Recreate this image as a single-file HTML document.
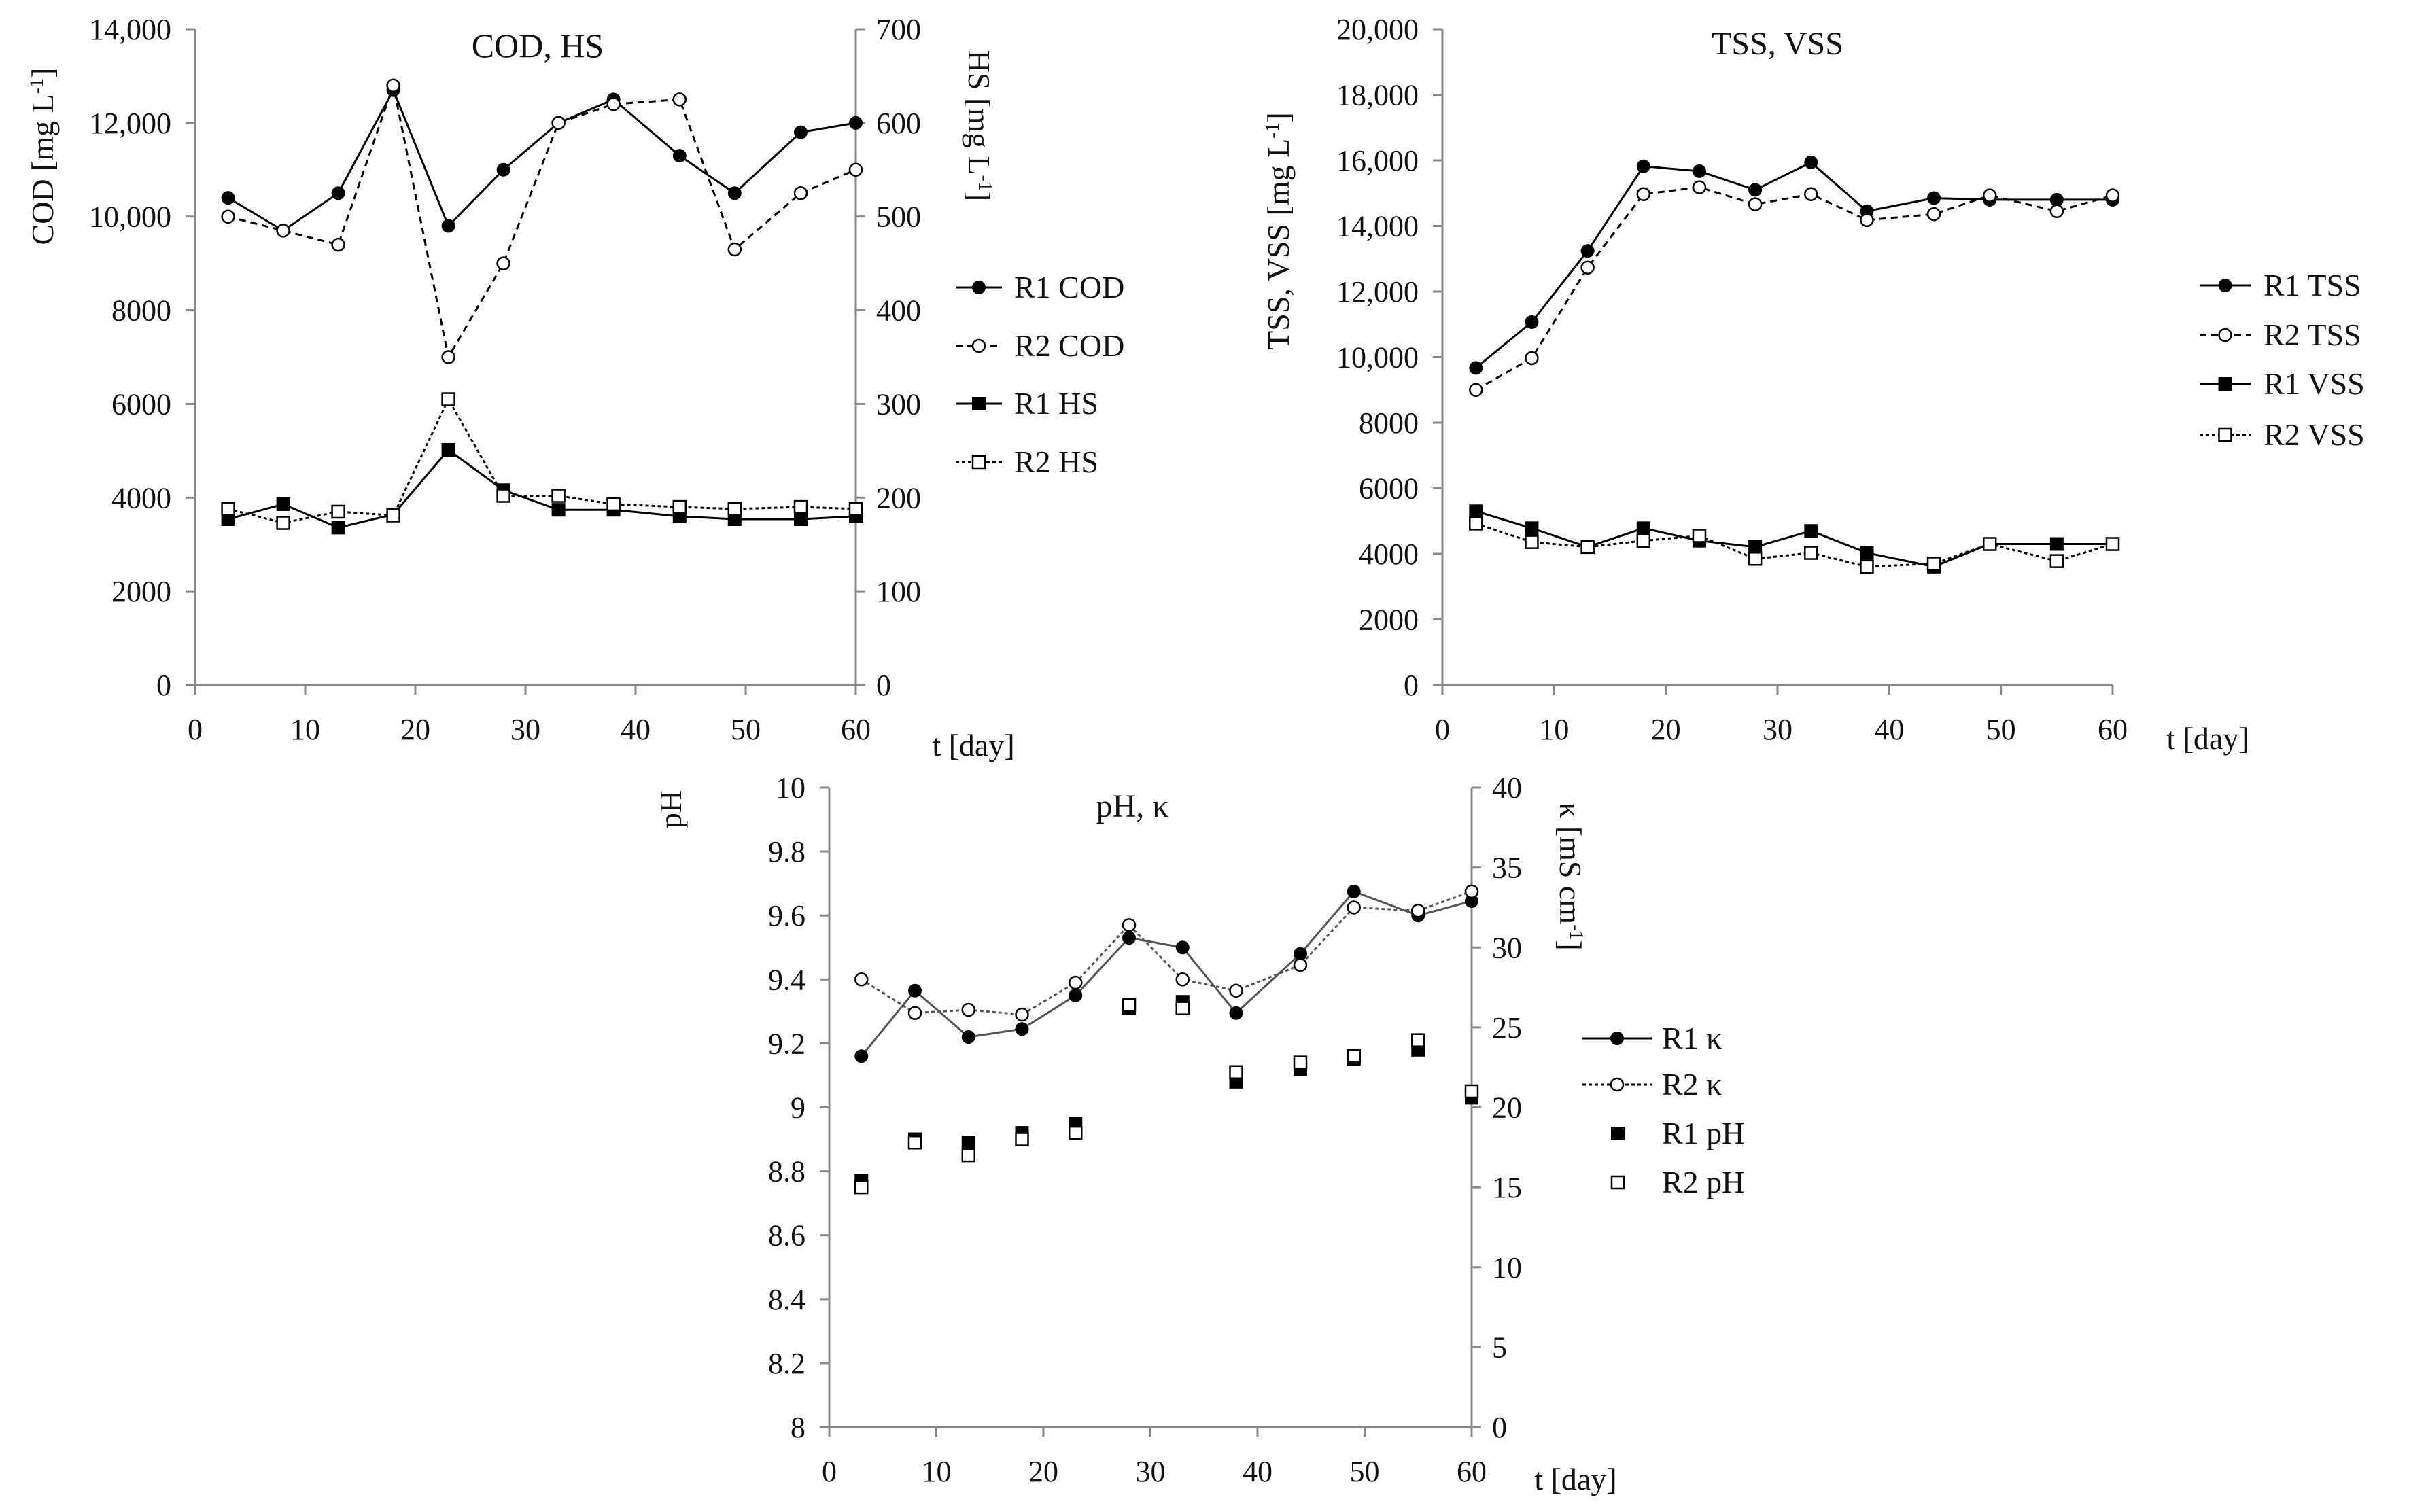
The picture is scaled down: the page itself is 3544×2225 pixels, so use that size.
<!DOCTYPE html>
<html><head><meta charset="utf-8"><style>
html,body{margin:0;padding:0;background:#fff}
svg{display:block}
text{font-family:"Liberation Serif",serif;fill:#111}
</style></head>
<body>
<svg id="fig" width="3544" height="2225" viewBox="0 0 3544 2225" xmlns="http://www.w3.org/2000/svg"></svg>
<script>
const days = [3,8,13,18,23,28,33,38,44,49,55,60];
const xTicks = [0,10,20,30,40,50,60];
// Chart 1
const r1COD = [10400,9700,10500,12700,9800,11000,12000,12500,11300,10500,11800,12000];
const r2COD = [10000,9700,9400,12800,7000,9000,12000,12400,12500,9300,10500,11000];
const r1HS = [177,193,168,182,251,208,187,187,180,177,177,180];
const r2HS = [188,173,185,181,305,202,202,193,190,188,190,188];
const codTicks = [0,2000,4000,6000,8000,10000,12000,14000];
const hsTicks = [0,100,200,300,400,500,600,700];
// Chart 2
const r1TSS = [9670,11070,13240,15820,15670,15100,15940,14450,14850,14800,14800,14800];
const r2TSS = [9000,9970,12730,14970,15180,14660,14970,14180,14360,14930,14450,14930];
const r1VSS = [5300,4780,4210,4780,4400,4210,4700,4030,3610,4300,4300,4300];
const r2VSS = [4925,4360,4210,4400,4550,3850,4030,3610,3700,4300,3780,4300];
const tssTicks = [0,2000,4000,6000,8000,10000,12000,14000,16000,18000,20000];
// Chart 3
const r1K = [23.2,27.3,24.4,24.9,27.0,30.6,30.0,25.9,29.6,33.5,32.0,32.9];
const r2K = [28.0,25.9,26.1,25.8,27.8,31.4,28.0,27.3,28.9,32.5,32.3,33.5];
const r1pH = [8.77,8.90,8.89,8.92,8.95,9.31,9.33,9.08,9.12,9.15,9.18,9.03];
const r2pH = [8.75,8.89,8.85,8.90,8.92,9.32,9.31,9.11,9.14,9.16,9.21,9.05];
const pHTicks = [8,8.2,8.4,8.6,8.8,9,9.2,9.4,9.6,9.8,10];
const kTicks = [0,5,10,15,20,25,30,35,40];

const NS="http://www.w3.org/2000/svg";
const svg=document.getElementById('fig');
function el(tag,attrs,parent,txt){const e=document.createElementNS(NS,tag);for(const k in attrs)e.setAttribute(k,attrs[k]);if(txt!==undefined)e.textContent=txt;(parent||svg).appendChild(e);return e;}
function fmt(v){return v>=10000?v.toLocaleString('en-US'):String(v);}
const FS=44;

function makeChart(name,x0,x1,y0,y1,yMin,yMax,yTicks,rightAxis){
  const g=el('g',{},svg);
  
  
  const xs=v=>x0+(v-0)/60*(x1-x0);
  const ys=v=>y0-(v-yMin)/(yMax-yMin)*(y0-y1);
  const ax=el('g',{},g);
  
  
  el('line',{x1:x0,y1:y0,x2:x1,y2:y0,stroke:'#888','stroke-width':3},ax);
  el('line',{x1:x0,y1:y0,x2:x0,y2:y1,stroke:'#888','stroke-width':3},ax);
  xTicks.forEach(t=>{
    el('line',{x1:xs(t),y1:y0,x2:xs(t),y2:y0+14,stroke:'#888','stroke-width':3},ax);
    const tx=el('text',{x:xs(t),y:y0+80,'font-size':FS,'text-anchor':'middle'},ax,String(t));
    
    
  });
  yTicks.forEach(t=>{
    el('line',{x1:x0-14,y1:ys(t),x2:x0,y2:ys(t),stroke:'#888','stroke-width':3},ax);
    const tx=el('text',{x:x0-35,y:ys(t)+15,'font-size':FS,'text-anchor':'end'},ax,fmt(t));
    
    
  });
  if(rightAxis){
    const [rMin,rMax,rTicks]=rightAxis;
    const rs=v=>y0-(v-rMin)/(rMax-rMin)*(y0-y1);
    el('line',{x1:x1,y1:y0,x2:x1,y2:y1,stroke:'#888','stroke-width':3},ax);
    rTicks.forEach(t=>{
      el('line',{x1:x1,y1:rs(t),x2:x1+14,y2:rs(t),stroke:'#888','stroke-width':3},ax);
      const tx=el('text',{x:x1+30,y:rs(t)+15,'font-size':FS,'text-anchor':'start'},ax,String(t));
      
      
    });
    return {g,xs,ys,rs};
  }
  return {g,xs,ys};
}

function marker(g,type,x,y){
  if(type==='fc')return el('circle',{cx:x,cy:y,r:10,fill:'#000'},g);
  if(type==='oc')return el('circle',{cx:x,cy:y,r:9,fill:'#fff',stroke:'#000','stroke-width':2.5},g);
  if(type==='fs')return el('rect',{x:x-10,y:y-10,width:20,height:20,fill:'#000'},g);
  if(type==='os')return el('rect',{x:x-9,y:y-9,width:18,height:18,fill:'#fff',stroke:'#000','stroke-width':2.5},g);
}
function series(parent,name,vals,xs,sc,mtype,dash,color){
  const g=el('g',{},parent);
  
  
  if(dash!==null){
    const pts=days.map((d,i)=>xs(d)+','+sc(vals[i])).join(' ');
    const l=el('polyline',{points:pts,fill:'none',stroke:color||'#000','stroke-width':3},g);
    if(dash)l.setAttribute('stroke-dasharray',dash);
  }
  days.forEach((d,i)=>{
    const m=marker(g,mtype,xs(d),sc(vals[i]));
    
    
  });
}
function legend(parent,x1,x2,tx,y,label,mtype,dash){
  const g=el('g',{},parent);
  
  
  if(dash!==null){const l=el('line',{x1:x1,y1:y,x2:x2,y2:y,stroke:'#000','stroke-width':3},g);if(dash)l.setAttribute('stroke-dasharray',dash);}
  marker(g,mtype,(x1+x2)/2,y);
  el('text',{x:tx,y:y+15,'font-size':FS+2},g,label);
}
function label(parent,name,x,y,txt,rot,size){
  const t=el('text',{x:x,y:y,'font-size':size||FS+2,'text-anchor':'middle'},parent,'');
  if(rot)t.setAttribute('transform','rotate('+rot+' '+x+' '+y+')');
  t.innerHTML=txt;
  
  
  return t;
}

// Chart 1
const c1=makeChart('cod-hs-chart',287,1259,1008,43,0,14000,codTicks,[0,700,hsTicks]);
series(c1.g,'r1-cod',r1COD,c1.xs,c1.ys,'fc','');
series(c1.g,'r2-cod',r2COD,c1.xs,c1.ys,'oc','10,7');
series(c1.g,'r1-hs',r1HS,c1.xs,c1.rs,'fs','');
series(c1.g,'r2-hs',r2HS,c1.xs,c1.rs,'os','5,4');
label(c1.g,'chart-title',791,84,'COD, HS',0,50);
label(c1.g,'y-axis-title',78,230,'COD [mg L<tspan baseline-shift="super" font-size="28">-1</tspan>]',-90,46);
label(c1.g,'right-axis-title',1425,185,'HS [mg L<tspan baseline-shift="super" font-size="28">-1</tspan>]',90,46);
label(c1.g,'x-axis-title',1432,1112,'t [day]',0,46);
legend(c1.g,1406,1474,1492,423,'R1 COD','fc','');
legend(c1.g,1406,1474,1492,509,'R2 COD','oc','10,7');
legend(c1.g,1406,1474,1492,594,'R1 HS','fs','');
legend(c1.g,1406,1474,1492,680,'R2 HS','os','5,4');

// Chart 2
const c2=makeChart('tss-vss-chart',2122,3108,1008,43,0,20000,tssTicks,null);
series(c2.g,'r1-tss',r1TSS,c2.xs,c2.ys,'fc','');
series(c2.g,'r2-tss',r2TSS,c2.xs,c2.ys,'oc','10,7');
series(c2.g,'r1-vss',r1VSS,c2.xs,c2.ys,'fs','');
series(c2.g,'r2-vss',r2VSS,c2.xs,c2.ys,'os','5,4');
label(c2.g,'chart-title',2615,80,'TSS, VSS',0,48);
label(c2.g,'y-axis-title',1896,340,'TSS, VSS [mg L<tspan baseline-shift="super" font-size="28">-1</tspan>]',-90,46);
label(c2.g,'x-axis-title',3248,1102,'t [day]',0,46);
legend(c2.g,3236,3311,3330,420,'R1 TSS','fc','');
legend(c2.g,3236,3311,3330,493,'R2 TSS','oc','10,7');
legend(c2.g,3236,3311,3330,565,'R1 VSS','fs','');
legend(c2.g,3236,3311,3330,640,'R2 VSS','os','5,4');

// Chart 3
const c3=makeChart('ph-kappa-chart',1220,2165,2100,1159,8,10,pHTicks,[0,40,kTicks]);
series(c3.g,'r1-kappa',r1K,c3.xs,c3.rs,'fc','','#555');
series(c3.g,'r2-kappa',r2K,c3.xs,c3.rs,'oc','5,4','#555');
series(c3.g,'r1-ph',r1pH,c3.xs,c3.ys,'fs',null);
series(c3.g,'r2-ph',r2pH,c3.xs,c3.ys,'os',null);
label(c3.g,'chart-title',1666,1202,'pH, κ',0,48);
label(c3.g,'y-axis-title',1002,1191,'pH',-90,46);
label(c3.g,'right-axis-title',2295,1290,'κ [mS cm<tspan baseline-shift="super" font-size="28">-1</tspan>]',90,46);
label(c3.g,'x-axis-title',2318,2192,'t [day]',0,46);
legend(c3.g,2328,2430,2445,1528,'R1 κ','fc','');
legend(c3.g,2328,2430,2445,1596,'R2 κ','oc','5,4');
legend(c3.g,2370,2390,2445,1668,'R1 pH','fs',null);
legend(c3.g,2370,2390,2445,1740,'R2 pH','os',null);
</script>
</body></html>
